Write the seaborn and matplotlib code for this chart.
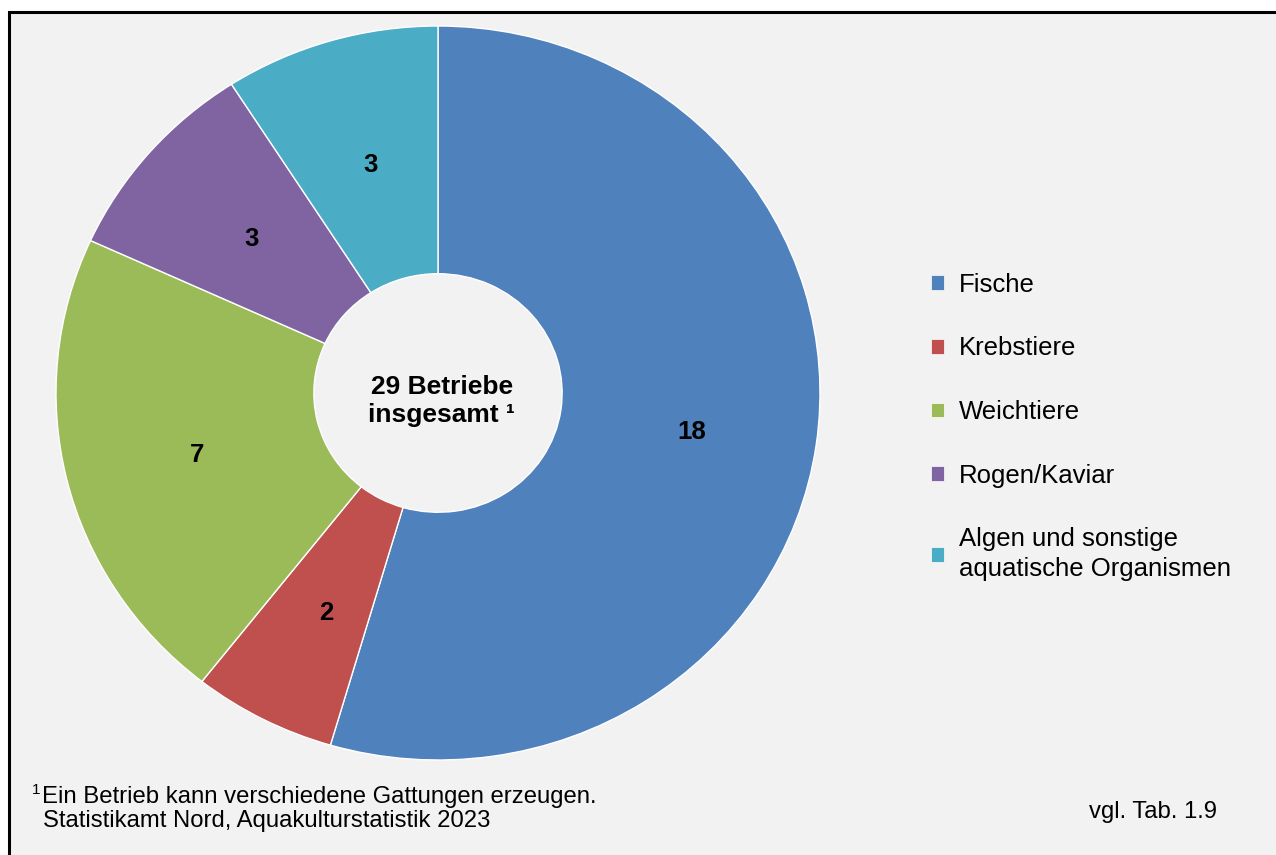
import matplotlib
matplotlib.use("Agg")
import matplotlib.pyplot as plt
from matplotlib.patches import Patch, Rectangle
import seaborn as sns

# ---- data ----
categories = ["Fische", "Krebstiere", "Weichtiere", "Rogen/Kaviar",
              "Algen und sonstige\naquatische Organismen"]
values = [18, 2, 7, 3, 3]
colors = ["#4F81BD", "#C0504D", "#9BBB59", "#8064A2", "#4BACC6"]
center_text = "29 Betriebe\ninsgesamt \u00b9"
footnote_1 = "Ein Betrieb kann verschiedene Gattungen erzeugen."
footnote_2 = "Statistikamt Nord, Aquakulturstatistik 2023"
source_ref = "vgl. Tab. 1.9"

sns.set_theme(style="white")
plt.rcParams["font.family"] = ["Liberation Sans", "DejaVu Sans"]
plt.rcParams["text.color"] = "black"

W, H = 1276, 855
fig = plt.figure(figsize=(W / 100, H / 100), dpi=100)
fig.patch.set_facecolor("white")

# chart frame (background panel with black border, cropped at right/bottom)
bg = Rectangle((9 / W, -0.05), 1.1, 1 - 12 / H + 0.05, transform=fig.transFigure,
               facecolor="#F2F2F2", edgecolor="black", linewidth=2.2, zorder=-10)
fig.patches.append(bg)

# pie axes
cx, cy = 438, 393
rx, ry = 382, 367
ax = fig.add_axes([(cx - rx) / W, 1 - (cy + ry) / H, 2 * rx / W, 2 * ry / H])
ax.set_facecolor("none")
ax.set_zorder(5)
wedges, texts, autotexts = ax.pie(
    values, colors=colors, startangle=90, counterclock=False,
    radius=1.0, autopct=lambda p: f"{round(p * sum(values) / 100):d}",
    pctdistance=0.66,
    wedgeprops=dict(width=0.675, edgecolor="white", linewidth=1.0),
    textprops=dict(fontsize=18.5, fontweight="bold", color="black"),
)
for t in autotexts:
    x, y = t.get_position()
    t.set_position((x + 0.01, y - 0.012))
ax.set_xlim(-1, 1)
ax.set_ylim(-1, 1)
ax.set_aspect("auto")
ax.axis("off")

ax.text(0.01, -0.022, center_text, ha="center", va="center", fontsize=19,
        fontweight="bold", linespacing=1.22, color="black")

# legend
handles = [Patch(facecolor=c, edgecolor="white", linewidth=0.5) for c in colors]
leg = fig.legend(handles, categories, loc="upper left",
                 bbox_to_anchor=(918 / W, 1 - 260 / H), frameon=False,
                 fontsize=18.5, handlelength=0.5, handleheight=0.5,
                 handletextpad=0.6, labelspacing=1.54, borderpad=0,
                 labelcolor="black")
for t in leg.get_texts():
    t.set_linespacing(1.3)

# footnotes
fig.text(32 / W, 1 - 790 / H, "1", fontsize=11, ha="left", va="center")
fig.text(42 / W, 1 - 803 / H, footnote_1, fontsize=17.2, ha="left", va="baseline")
fig.text(43 / W, 1 - 827 / H, footnote_2, fontsize=17.2, ha="left", va="baseline")
fig.text(1217 / W, 1 - 818 / H, source_ref, fontsize=17.2, ha="right", va="baseline")

fig.savefig("out.png", dpi=100, facecolor=fig.get_facecolor())
